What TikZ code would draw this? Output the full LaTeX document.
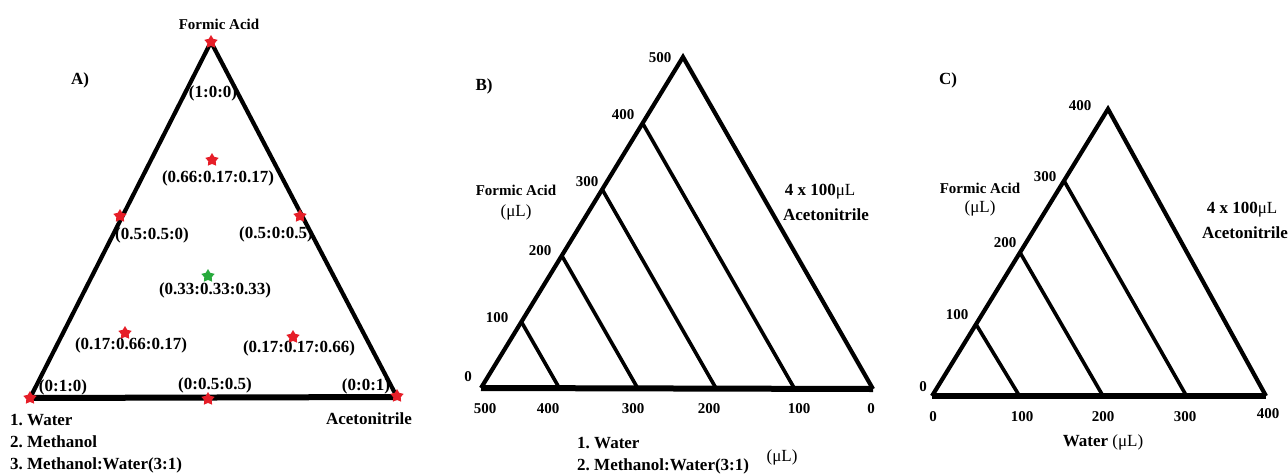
\documentclass[tikz,border=0pt]{standalone}
\usepackage{fontspec}
\setmainfont{Liberation Serif}
\frenchspacing
\usetikzlibrary{calc,positioning,shapes.geometric}
\definecolor{ptred}{RGB}{230,30,40}
\definecolor{ptgreen}{RGB}{40,170,60}

\begin{document}
\begin{tikzpicture}[
  x=1pt, y=-1pt,
  lbl/.style={font=\fontsize{17}{19}\selectfont\bfseries, inner sep=0pt},
  num/.style={font=\fontsize{15}{17}\selectfont\bfseries, inner sep=0pt},
  side/.style={line width=4.2pt, line join=miter},
  base/.style={line width=6pt},
  tie/.style={line width=3.6pt},
  pt/.style={star, star points=5, star point ratio=1.8, fill=ptred, inner sep=0pt, minimum size=14pt}
]
\useasboundingbox (0,0) rectangle (1288,475);

% A) mixture design
\coordinate (aT) at (211,42);
\coordinate (aL) at (30,398);
\coordinate (aR) at (397,397);
\draw[side] (aL) -- (aT) -- (aR);
\draw[base] (aL) -- (aR);
\node[num] (aFA) at (219,24) {Formic Acid};
\node[lbl] (aTag) at (80,80) {A)};
\node[lbl] (r1) at (213,93) {(1:0:0)};
\node[lbl] (r2) at (218,178) {(0.66:0.17:0.17)};
\node[lbl] (r3) at (152,235) {(0.5:0.5:0)};
\node[lbl] (r4) at (276,234) {(0.5:0:0.5)};
\node[lbl] (r5) at (215,290) {(0.33:0.33:0.33)};
\node[lbl] (r6) at (131,345) {(0.17:0.66:0.17)};
\node[lbl] (r7) at (299,348) {(0.17:0.17:0.66)};
\node[lbl] (r8) at (63,387) {(0:1:0)};
\node[lbl] (r9) at (215,385) {(0:0.5:0.5)};
\node[lbl] (r10) at (366,386) {(0:0:1)};
\node[lbl] (aAce) at (369,419) {Acetonitrile};
\node[lbl, anchor=west] (aS1) at (10,420) {1. Water};
\node[lbl, anchor=west] (aS2) at (10,442) {2. Methanol};
\node[lbl, anchor=west] (aS3) at (10,465) {3. Methanol:Water(3:1)};
\foreach \x/\y [count=\i] in {211/42,212/160,120/216,300/216,125/333,293/337,30/398,208/399,397/396}
  \node[pt] (s\i) at (\x,\y) {};
\node[pt, fill=ptgreen] (s0) at (208,276) {};

% B) water / methanol:water series
\coordinate (bT) at (683,57);
\coordinate (bL) at (481,388);
\coordinate (bR) at (873,389);
\draw[side] (bL) -- (bT) -- (bR);
\draw[base] (bL) -- (bR);
\foreach \f [count=\i] in {0.2,0.4,0.6,0.8} {
  \coordinate (bu\i) at ($(bL)!\f!(bT)$);
  \coordinate (bd\i) at ($(bL)!\f!(bR)$);
  \draw[tie] (bu\i) -- (bd\i);
}
\node[lbl] (bTag) at (484,86) {B)};
\foreach \t/\x/\y in {500/660/58,400/623/115,300/587/182,200/540/251,100/497/318,0/468/377}
  \node[num] (bl\t) at (\x,\y) {\t};
\foreach \t/\x in {500/485,400/548,300/633,200/709,100/799,0/871}
  \node[num] (bb\t) at (\x,409) {\t};
\node[num] (bFA) at (516,190) {Formic Acid};
\node[lbl, font=\fontsize{17}{19}\selectfont] (bFAu) at (516,212) {(μL)};
\node[lbl] (bAce1) at (820,192) {4 x 100\textmd{μL}};
\node[lbl] (bAce2) at (826,215) {Acetonitrile};
\node[lbl, anchor=west] (bS1) at (577,443) {1. Water};
\node[lbl, anchor=west] (bS2) at (577,466) {2. Methanol:Water(3:1)};
\node[lbl, font=\fontsize{17}{19}\selectfont] (bU) at (782,457) {(μL)};

% C) water series
\coordinate (cT) at (1108,109);
\coordinate (cL) at (932,396);
\coordinate (cR) at (1266,396);
\draw[side] (cL) -- (cT) -- (cR);
\draw[base] (cL) -- (cR);
\foreach \f [count=\i] in {0.25,0.5,0.75} {
  \coordinate (cu\i) at ($(cL)!\f!(cT)$);
  \coordinate (cd\i) at ($(cL)!\f!(cR)+(4,0)$);
  \draw[tie] (cu\i) -- (cd\i);
}
\node[lbl] (cTag) at (948,80) {C)};
\foreach \t/\x/\y in {400/1080/106,300/1045/177,200/1005/243,100/957/315,0/923/387}
  \node[num] (cl\t) at (\x,\y) {\t};
\foreach \t/\x in {0/933,100/1022,200/1103,300/1185}
  \node[num] (cb\t) at (\x,417) {\t};
\node[num] (cb400) at (1268,414) {400};
\node[lbl] (cW) at (1103,442) {Water \textmd{(μL)}};
\node[num] (cFA) at (980,188) {Formic Acid};
\node[lbl, font=\fontsize{17}{19}\selectfont] (cFAu) at (980,208) {(μL)};
\node[lbl] (cAce1) at (1242,210) {4 x 100\textmd{μL}};
\node[lbl] (cAce2) at (1245,233) {Acetonitrile};
\end{tikzpicture}
\end{document}
